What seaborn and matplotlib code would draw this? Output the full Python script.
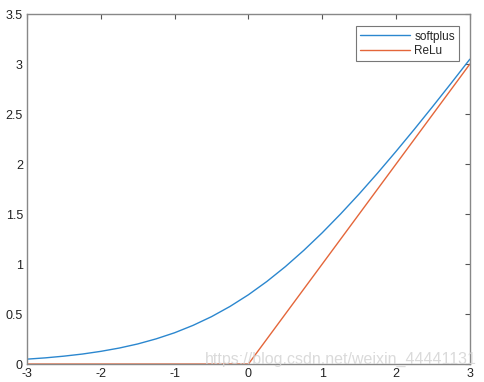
import numpy as np
import pandas as pd
import seaborn as sns
import matplotlib.pyplot as plt

# values
x_soft = [-3, -2.75, -2.5, -2.25, -2, -1.75, -1.5, -1.25, -1, -0.75, -0.5, -0.25,
          0, 0.25, 0.5, 0.75, 1, 1.25, 1.5, 1.75, 2, 2.25, 2.5, 2.75, 3]
y_soft = [0.049, 0.062, 0.079, 0.100, 0.127, 0.160, 0.201, 0.252, 0.313, 0.387, 0.474, 0.576,
          0.693, 0.826, 0.974, 1.137, 1.313, 1.502, 1.701, 1.910, 2.127, 2.350, 2.579, 2.812, 3.049]
x_relu = [-3, 0, 3]
y_relu = [0, 0, 3]
xticks = [-3, -2, -1, 0, 1, 2, 3]
yticks = [0, 0.5, 1, 1.5, 2, 2.5, 3, 3.5]

sns.set_style("white")
plt.rcParams['font.family'] = ['Liberation Sans', 'DejaVu Sans']

df = pd.concat([
    pd.DataFrame({'x': x_soft, 'y': y_soft, 'name': 'softplus'}),
    pd.DataFrame({'x': x_relu, 'y': y_relu, 'name': 'ReLu'}),
])

fig = plt.figure(figsize=(4.85, 3.82), dpi=100)
ax = fig.add_axes([0.0557, 0.047, 0.913, 0.916])
sns.lineplot(data=df, x='x', y='y', hue='name', palette=['#2b87cf', '#e4663a'],
             sort=False, linewidth=1.0, ax=ax)

ax.set_xlim(-3, 3)
ax.set_ylim(0, 3.5)
ax.set_xticks(xticks)
ax.set_xticklabels(['-3', '-2', '-1', '0', '1', '2', '3'])
ax.set_yticks(yticks)
ax.set_yticklabels(['0', '0.5', '1', '1.5', '2', '2.5', '3', '3.5'])
ax.set_xlabel('')
ax.set_ylabel('')
ax.tick_params(direction='in', length=3.5, width=0.8, color='#555555', labelsize=9,
               labelcolor='#222222', top=True, right=True, pad=3)
for s in ax.spines.values():
    s.set_color('#888888')
    s.set_linewidth(1.0)

leg = ax.legend(loc='upper right', bbox_to_anchor=(0.976, 0.965), fontsize=8.5,
                frameon=True, fancybox=False, handlelength=4.2, borderpad=0.35,
                labelspacing=0.2, handletextpad=0.4, borderaxespad=0)
leg.get_frame().set_edgecolor('#555555')
leg.get_frame().set_linewidth(0.8)

fig.text(0.423, 0.048, 'https://blog.csdn.net/weixin_44441131', fontsize=11.5,
         color='#d4d4d4', alpha=0.85)

fig.savefig('out.png', dpi=100)
